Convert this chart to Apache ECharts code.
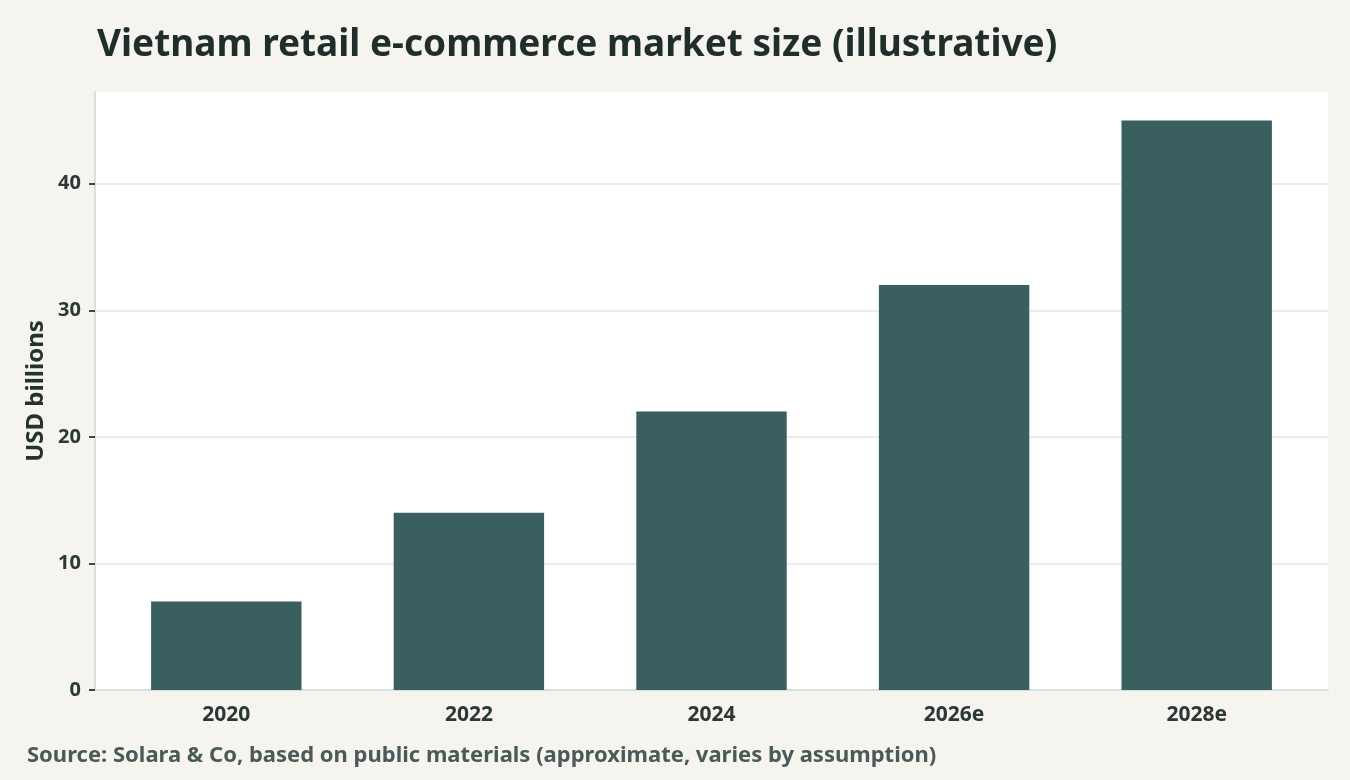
<!DOCTYPE html>
<html>
<head>
<meta charset="utf-8">
<script src="https://cdn.jsdelivr.net/npm/echarts@6/dist/echarts.min.js"></script>
<style>
  html, body { margin: 0; padding: 0; background: #f5f4ef; }
  #chart { width: 1350px; height: 780px; }
</style>
</head>
<body>
<div id="chart"></div>
<script>
const years = ['2020', '2022', '2024', '2026e', '2028e']
const marketSize = [7, 14, 22, 32, 45]
const yTickMax = 40
const yMax = 47.25

const font = '"Noto Sans", sans-serif'
const myChart = echarts.init(document.getElementById('chart'))

// plot panel spans y 92..690; the tick grid stops at the 40 line so no line is drawn at the panel top
const panelTop = 92
const panelBottom = 90
const panelH = 780 - panelTop - panelBottom
const tickTop = panelTop + panelH * (1 - yTickMax / yMax)

const option = {
  animation: false,
  backgroundColor: '#f5f4ef',
  textStyle: { fontFamily: font },
  title: {
    text: 'Vietnam retail e-commerce market size (illustrative)',
    left: 92,
    top: 22,
    textStyle: {
      fontFamily: font,
      fontSize: 37,
      fontWeight: 'bold',
      color: '#1f2d2b'
    }
  },
  graphic: [{
    type: 'text',
    left: 27,
    top: 745,
    style: {
      text: 'Source: Solara & Co, based on public materials (approximate, varies by assumption)',
      font: 'bold 22px "Noto Sans", sans-serif',
      fill: '#4b5a58'
    }
  }],
  grid: [{
    left: 95, right: 22, top: panelTop, bottom: panelBottom,
    show: true, backgroundColor: '#ffffff', borderWidth: 0
  }, {
    left: 105, right: 32, top: panelTop, bottom: panelBottom
  }, {
    left: 95, right: 22, top: tickTop, bottom: panelBottom
  }],
  xAxis: [{
    type: 'value',
    gridIndex: 0,
    min: 0,
    max: 1,
    axisLine: { show: true, lineStyle: { color: '#d8dfdf', width: 2 } },
    axisTick: { show: false },
    axisLabel: { show: false },
    splitLine: { show: false }
  }, {
    type: 'category',
    gridIndex: 1,
    data: years,
    axisLine: { show: false },
    axisTick: { alignWithLabel: true, length: 6, lineStyle: { color: '#3a4846', width: 2 } },
    axisLabel: { fontSize: 21, fontWeight: 'bold', color: '#2b3836', margin: 15 }
  }, {
    type: 'value',
    gridIndex: 2,
    show: false
  }],
  yAxis: [{
    type: 'value',
    gridIndex: 0,
    min: 0,
    max: yMax,
    name: 'USD billions',
    nameLocation: 'middle',
    nameGap: 47,
    nameTextStyle: { fontSize: 24, fontWeight: 'bold', color: '#25332f' },
    axisLine: { show: true, lineStyle: { color: '#d8dfdf', width: 2 } },
    axisTick: { show: false },
    axisLabel: { show: false },
    splitLine: { show: false }
  }, {
    type: 'value',
    gridIndex: 1,
    min: 0,
    max: yMax,
    show: false,
    splitLine: { show: false }
  }, {
    type: 'value',
    gridIndex: 2,
    min: 0,
    max: yTickMax,
    interval: 10,
    axisLine: { show: false },
    axisTick: { show: true, length: 6, lineStyle: { color: '#3a4846', width: 2 } },
    axisLabel: { fontSize: 20, fontWeight: 'bold', color: '#2b3836', margin: 14 },
    splitLine: { lineStyle: { color: '#e1e6e6', width: 1.5 } }
  }],
  series: [{
    type: 'bar',
    xAxisIndex: 1,
    yAxisIndex: 1,
    data: marketSize,
    barWidth: '62%',
    itemStyle: { color: '#395f5f' }
  }]
}
myChart.setOption(option)
</script>
</body>
</html>
